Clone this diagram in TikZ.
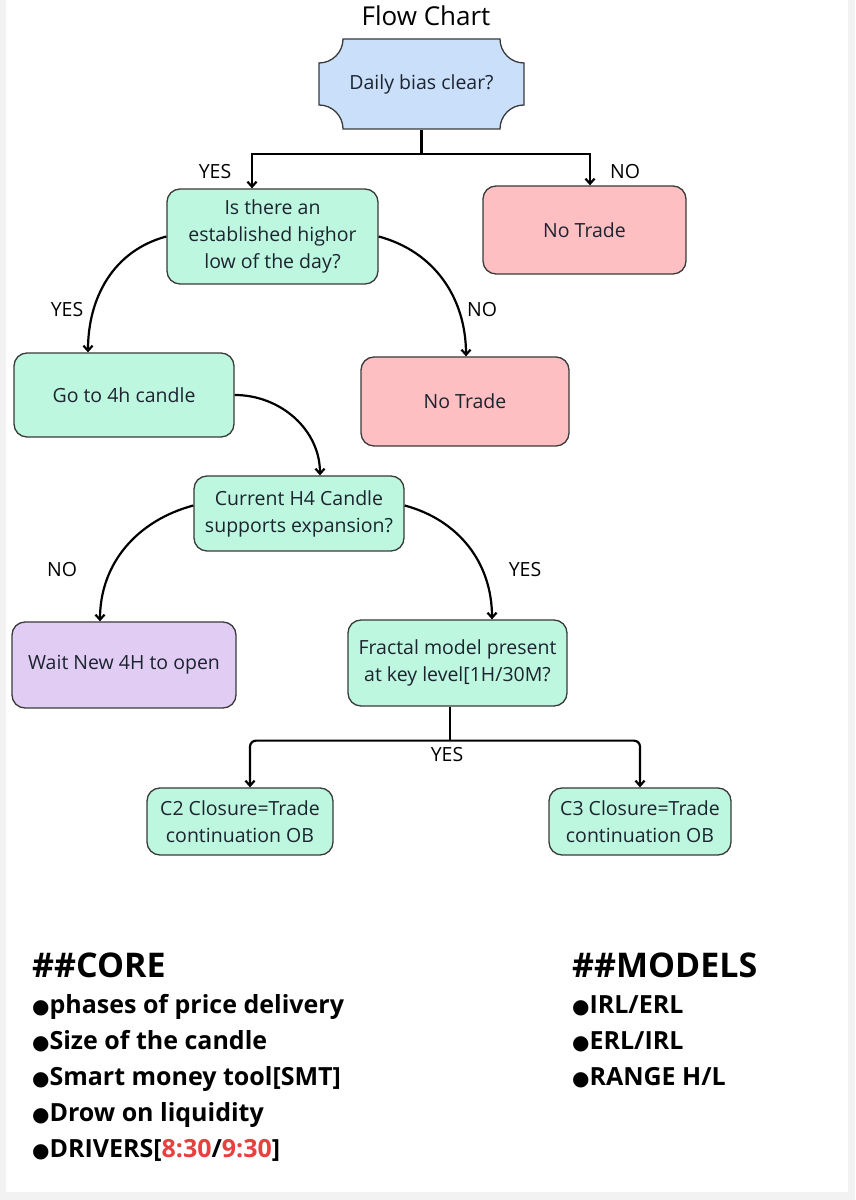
\documentclass[tikz,border=0pt]{standalone}
\usepackage{fontspec}
\setmainfont{Open Sans}
\newfontfamily\dotfont{DejaVu Sans}
\usetikzlibrary{arrows.meta}
\definecolor{edge}{HTML}{3A3A3A}
\definecolor{bluefill}{HTML}{C9DFFA}
\definecolor{greenfill}{HTML}{BDF7DF}
\definecolor{pinkfill}{HTML}{FDBFC2}
\definecolor{purplefill}{HTML}{E1CDF3}
\definecolor{timered}{HTML}{E8403F}
\definecolor{ink}{HTML}{1C2430}
\newcommand\boxfont{\fontsize{19.5}{27}\selectfont}
\newcommand\itemfont{\fontsize{25}{30}\selectfont\bfseries}
\begin{document}
\begin{tikzpicture}[>={Straight Barb[length=5pt,width=9pt]},x=1pt,y=1pt,
	line width=2.2pt,
	box/.style={draw=edge,line width=1.3pt,rounded corners=13pt,align=center,font=\boxfont,text=ink,inner sep=0pt},
	yesbox/.style={box,fill=greenfill},
	nobox/.style={box,fill=pinkfill},
	lbl/.style={font=\boxfont,inner sep=0pt}]
	% page
	\useasboundingbox (0,0) rectangle (855,1200);
	\fill[black!5] (0,0) rectangle (855,1200);
	\fill[white] (6,8) rectangle (848,1200);
	\node[font=\fontsize{26}{30}\selectfont] (title) at (426,1184) {Flow Chart};
	% start shape with notched corners
	\filldraw[fill=bluefill,draw=edge,line width=1.3pt] (343,1161) -- (500,1161) arc[start angle=180,end angle=270,radius=24pt]
		-- (524,1095) arc[start angle=90,end angle=180,radius=24pt]
		-- (343,1071) arc[start angle=0,end angle=90,radius=24pt]
		-- (319,1137) arc[start angle=270,end angle=360,radius=24pt] -- cycle;
	\node[font=\boxfont,text=ink,minimum width=205pt,minimum height=90pt,inner sep=0pt] (bias) at (421.5,1116) {Daily bias clear?};
	% boxes
	\node[yesbox,minimum width=211pt,minimum height=95pt] (high) at (272.5,963.5) {Is there an\\established highor\\low of the day?};
	\node[nobox,minimum width=203pt,minimum height=88pt] (notrade1) at (584.5,970) {No Trade};
	\node[yesbox,minimum width=220pt,minimum height=84pt] (candle) at (124,805) {Go to 4h candle};
	\node[nobox,minimum width=208pt,minimum height=89pt] (notrade2) at (465,798.5) {No Trade};
	\node[yesbox,minimum width=210pt,minimum height=75pt] (hfour) at (299,686.5) {Current H4 Candle\\supports expansion?};
	\node[box,fill=purplefill,minimum width=224pt,minimum height=86pt] (wait) at (124,535) {Wait New 4H to open};
	\node[yesbox,minimum width=219pt,minimum height=86pt] (fractal) at (457.5,537) {Fractal model present\\at key level[1H/30M?};
	\node[yesbox,minimum width=186pt,minimum height=67pt] (ctwo) at (240,378.5) {C2 Closure=Trade\\continuation OB};
	\node[yesbox,minimum width=182pt,minimum height=67pt] (cthree) at (640,378.5) {C3 Closure=Trade\\continuation OB};
	% connectors
	\draw (bias.south) -- ++(0,-24) coordinate (split);
	\draw[->] (split) -| ([xshift=-20.5pt]high.north);
	\draw[->] (split) -| ([xshift=5.5pt]notrade1.north);
	\draw[->] (high.west) to[out=195,in=90] ([xshift=-36pt]candle.north);
	\draw[->] (high.east) to[out=-15,in=90] ([xshift=1pt]notrade2.north);
	\draw[->] (candle.east) to[out=0,in=90] ([xshift=21pt]hfour.north);
	\draw[->] ([yshift=8pt]hfour.west) to[out=195,in=90] ([xshift=-24pt]wait.north);
	\draw[->] ([yshift=8pt]hfour.east) to[out=-15,in=90] ([xshift=34.5pt]fractal.north);
	\draw ([xshift=-7.5pt]fractal.south) -- ++(0,-34) coordinate (fork);
	\draw[->,rounded corners=6pt] (fork) -| ([xshift=10pt]ctwo.north);
	\draw[->,rounded corners=6pt] (fork) -| (cthree.north);
	% labels
	\node[lbl] (yesa) at (215,1028) {YES};
	\node[lbl] (noa) at (625,1028) {NO};
	\node[lbl] (yesb) at (67,890) {YES};
	\node[lbl] (nob) at (482,890) {NO};
	\node[lbl] (noc) at (62,630) {NO};
	\node[lbl] (yesc) at (525,630) {YES};
	\node[lbl] (yesd) at (447,445) {YES};
	% notes
	\node[anchor=base west,font=\fontsize{34}{38}\selectfont\bfseries,inner sep=0pt] (core) at (31,222) {\#\#CORE};
	\foreach \txt [count=\i] in {phases of price delivery,Size of the candle,Smart money tool[SMT],Drow on liquidity,{DRIVERS[\textcolor{timered}{8:30}/\textcolor{timered}{9:30}]}}
		\node[anchor=base west,font=\itemfont,inner sep=0pt] (core\i) at (31,{222-36*\i}) {{\dotfont\fontsize{20}{24}\selectfont ●}\txt};
	\node[anchor=base west,font=\fontsize{34}{38}\selectfont\bfseries,inner sep=0pt] (models) at (571,222) {\#\#MODELS};
	\foreach \txt [count=\i] in {IRL/ERL,ERL/IRL,RANGE H/L}
		\node[anchor=base west,font=\itemfont,inner sep=0pt] (model\i) at (571,{222-36*\i}) {{\dotfont\fontsize{20}{24}\selectfont ●}\txt};
\end{tikzpicture}
\end{document}
